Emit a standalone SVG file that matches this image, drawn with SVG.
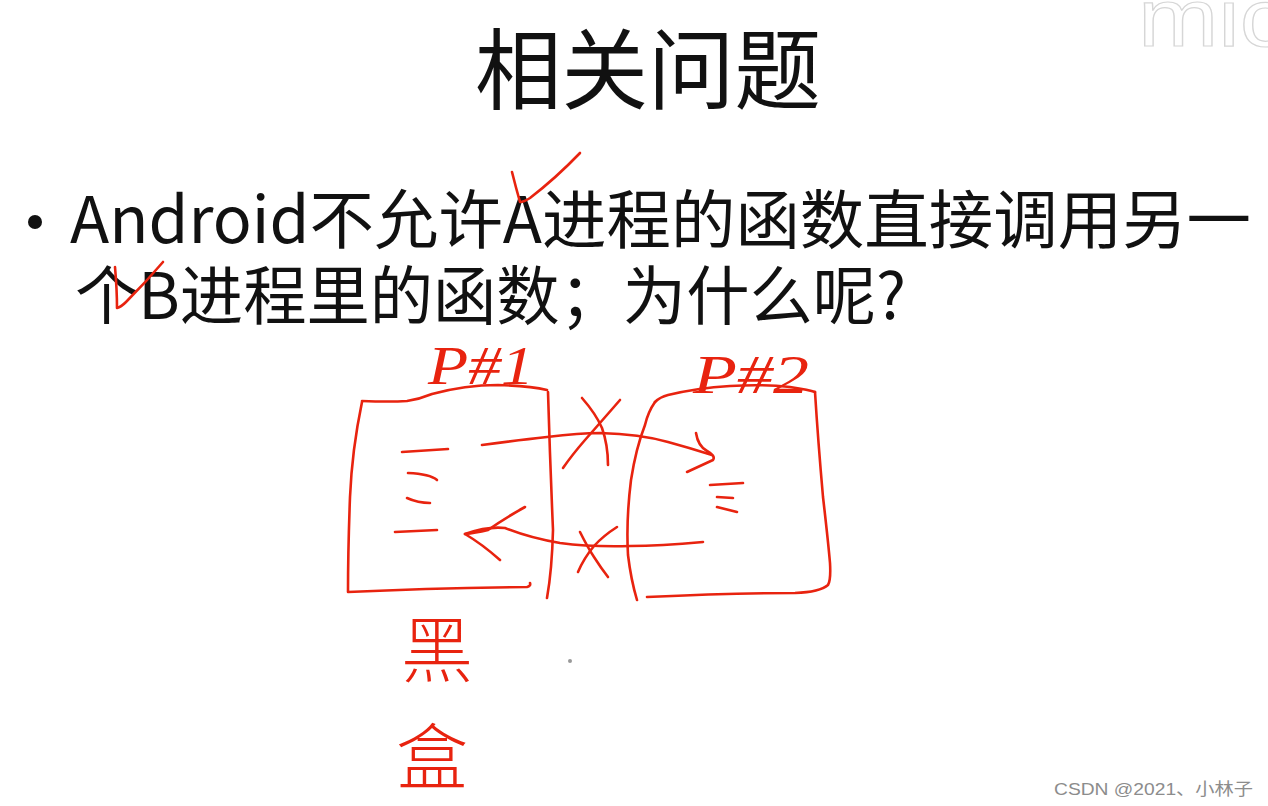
<svg xmlns="http://www.w3.org/2000/svg" width="1268" height="806" viewBox="0 0 1268 806">
<style>
.ink{fill:none;stroke:#e8230f;stroke-width:2.6;stroke-linecap:round;stroke-linejoin:round}
.txt{font-family:"Noto Sans CJK SC","Liberation Sans",sans-serif;fill:#111}
.hand{font-family:"Liberation Serif","Noto Sans CJK SC",serif;fill:#e8230f;font-style:italic}
.handcjk{font-family:"Noto Sans CJK SC",sans-serif;fill:#e8230f;font-weight:300}
</style>
<rect width="1268" height="806" fill="#ffffff"/>
<g id="watermark-top">
<text x="1138" y="46" font-family="Liberation Sans,sans-serif" font-size="82" fill="#ffffff" stroke="#d6d6d6" stroke-width="1.2" textLength="150" lengthAdjust="spacingAndGlyphs">mic</text>
</g>
<g id="title">
<text class="txt" x="475" y="102" font-size="88" textLength="346" lengthAdjust="spacingAndGlyphs">相关问题</text>
</g>
<g id="bullet">
<circle cx="35" cy="222" r="7" fill="#111"/>
<text class="txt" x="70" y="243" font-size="64" textLength="1181" lengthAdjust="spacingAndGlyphs">Android不允许A进程的函数直接调用另一</text>
<text class="txt" x="75" y="319" font-size="64" textLength="831" lengthAdjust="spacingAndGlyphs">个B进程里的函数；为什么呢?</text>
</g>
<g id="checks">
<path class="ink" d="M512,172 Q516,188 520,202 Q524,202 530,198 Q556,178 580,153"/>
<path class="ink" d="M115,267 Q117,290 117,308 Q121,307 126,302 Q146,282 163,262"/>
</g>
<g id="process-1">
<path class="ink" d="M362,401 Q390,402 407,401 Q420,399 432,394 Q465,385 498,385 Q530,386 547,390"/>
<path class="ink" d="M548,392 Q550,460 553,530 Q552,570 547,598"/>
<path class="ink" d="M362,402 Q352,450 350,497 Q348,550 348,592 Q430,588 527,587 Q531,586 530,583"/>
<path class="ink" d="M402,452 L448,449"/>
<path class="ink" d="M408,473 Q430,474 437,480"/>
<path class="ink" d="M407,498 Q418,503 430,503"/>
<path class="ink" d="M395,532 L437,530"/>
<text class="hand" x="428" y="384" font-size="54" textLength="106" lengthAdjust="spacingAndGlyphs">P#1</text>
</g>
<g id="process-2">
<path class="ink" d="M655,402 Q660,397 668,395 Q697,388 730,386 Q763,384 790,387 Q810,390 815,392"/>
<path class="ink" d="M815,392 Q818,440 823,497 Q828,540 830,563 Q831,580 828,585 Q820,592 795,593 Q730,593 647,597"/>
<path class="ink" d="M655,402 Q648,412 645,425 Q636,448 631,480 Q626,520 628,555 Q631,580 637,600"/>
<path class="ink" d="M710,485 L743,483"/>
<path class="ink" d="M717,497 L733,498"/>
<path class="ink" d="M717,507 L737,512"/>
<text class="hand" x="693" y="393" font-size="54" textLength="116" lengthAdjust="spacingAndGlyphs">P#2</text>
</g>
<g id="connectors">
<path class="ink" d="M482,445 Q520,440 547,437 Q580,433 600,433 Q640,434 668,442 Q690,448 712,455"/>
<path class="ink" d="M696,433 Q698,446 707,451 Q716,456 713,460 Q700,466 687,472"/>
<path class="ink" d="M582,398 Q596,414 602,428 Q608,445 608,465"/>
<path class="ink" d="M620,400 Q600,423 585,440 Q572,455 563,468"/>
<path class="ink" d="M703,542 Q660,546 630,546 Q590,547 560,543 Q530,538 505,528 Q488,526 465,534"/>
<path class="ink" d="M525,507 Q505,518 488,530 Q475,533 465,534 Q482,544 500,560"/>
<path class="ink" d="M580,532 Q588,548 594,557 Q601,568 608,577"/>
<path class="ink" d="M617,527 Q603,536 594,546 Q584,558 578,572"/>
</g>
<g id="black-box-label">
<text class="handcjk" x="437" y="676" font-size="72" text-anchor="middle">黑</text>
<text class="handcjk" x="432" y="783" font-size="72" text-anchor="middle">盒</text>
</g>
<circle cx="570" cy="661" r="2" fill="#999"/>
<g id="watermark">
<text x="1054" y="795" font-family="Liberation Sans,'Noto Sans CJK SC',sans-serif" font-size="17" fill="#8c8c8c" textLength="199" lengthAdjust="spacingAndGlyphs">CSDN @2021、小林子</text>
</g>
</svg>
